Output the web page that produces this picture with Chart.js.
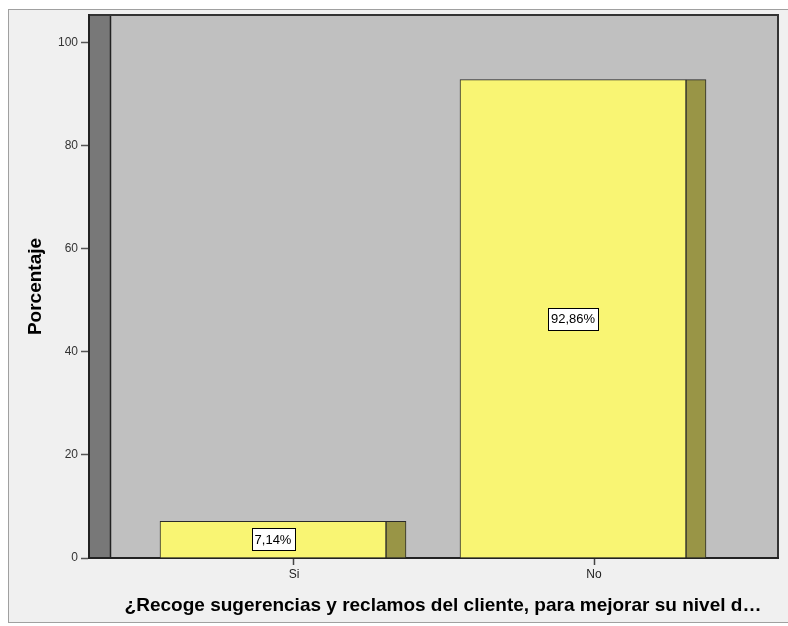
<!DOCTYPE html>
<html><head><meta charset="utf-8">
<script src="https://cdn.jsdelivr.net/npm/chart.js@4/dist/chart.umd.min.js"></script>
<style>html,body{margin:0;padding:0;background:#fff;overflow:hidden}#wrap{width:788px;height:626px;position:relative}</style>
</head><body><div id="wrap"><canvas id="c" width="788" height="626"></canvas></div>
<script>
// ---- data ----
const categories = ['Si', 'No'];
const percentages = [7.14, 92.86];
const valueLabels = ['7,14%', '92,86%'];
const yTickValues = [0, 20, 40, 60, 80, 100];
const xAxisTitle = '¿Recoge sugerencias y reclamos del cliente, para mejorar su nivel d…';
const yAxisTitle = 'Porcentaje';

const FONT = '"Liberation Sans", Arial, sans-serif';
const points = categories.map((c, i) => ({ x: i, y: percentages[i] }));

const backgroundPlugin = {
  id: 'bgFrame',
  beforeDraw(chart) {
    const ctx = chart.ctx;
    ctx.save();
    ctx.fillStyle = '#ffffff';
    ctx.fillRect(0, 0, chart.width, chart.height);
    ctx.fillStyle = '#f0f0f0';
    ctx.fillRect(8, 9, chart.width - 8, 614);
    ctx.strokeStyle = '#a0a0a0';
    ctx.lineWidth = 1;
    ctx.strokeRect(8.5, 9.5, chart.width, 613);
    const a = chart.chartArea;
    ctx.fillStyle = '#c0c0c0';
    ctx.fillRect(a.left, a.top, a.right - a.left, a.bottom - a.top);
    ctx.fillStyle = '#787878';
    ctx.fillRect(a.left, a.top, 21, a.bottom - a.top);
    ctx.strokeStyle = '#222';
    ctx.lineWidth = 1.5;
    ctx.beginPath();
    ctx.moveTo(a.left + 21.5, a.top);
    ctx.lineTo(a.left + 21.5, a.bottom);
    ctx.stroke();
    ctx.lineWidth = 2;
    ctx.strokeStyle = '#333';
    ctx.strokeRect(a.left, a.top, a.right - a.left, a.bottom - a.top);
    ctx.restore();
  }
};

const labelPlugin = {
  id: 'valueBoxes',
  afterDatasetsDraw(chart) {
    const meta = chart.getDatasetMeta(0);
    const ctx = chart.ctx;
    ctx.save();
    ctx.font = '13px ' + FONT;
    ctx.textAlign = 'center';
    ctx.textBaseline = 'middle';
    meta.data.forEach((el, i) => {
      const cx = el.x;
      const cy = (el.y + el.base) / 2;
      const w = ctx.measureText(valueLabels[i]).width + 6;
      const h = 22;
      ctx.fillStyle = '#ffffff';
      ctx.fillRect(Math.round(cx - w / 2) + 0.5, Math.round(cy - h / 2) + 0.5, Math.round(w), h);
      ctx.strokeStyle = '#000';
      ctx.lineWidth = 1;
      ctx.strokeRect(Math.round(cx - w / 2) + 0.5, Math.round(cy - h / 2) + 0.5, Math.round(w), h);
      ctx.fillStyle = '#000';
      ctx.fillText(valueLabels[i], cx, cy + 1);
    });
    ctx.restore();
  }
};

const xTitlePlugin = {
  id: 'xTitle',
  afterDraw(chart) {
    const ctx = chart.ctx;
    ctx.save();
    ctx.font = 'bold 19px ' + FONT;
    ctx.fillStyle = '#000';
    ctx.textAlign = 'center';
    ctx.textBaseline = 'middle';
    ctx.fillText(xAxisTitle, 443, 606);
    ctx.restore();
  }
};

new Chart(document.getElementById('c'), {
  type: 'bar',
  data: {
    datasets: [
      {
        label: 'front',
        data: points,
        xAxisID: 'xFront',
        backgroundColor: '#f9f573',
        borderColor: '#2a2a2a',
        borderWidth: 1,
        barThickness: 226,
        grouped: false
      },
      {
        label: 'side',
        data: points,
        xAxisID: 'xSide',
        backgroundColor: '#999546',
        borderColor: '#2a2a2a',
        borderWidth: 1,
        barThickness: 20,
        grouped: false
      }
    ]
  },
  options: {
    responsive: false,
    animation: false,
    layout: { padding: { top: 15, right: 10, left: 0, bottom: 0 } },
    plugins: { legend: { display: false }, tooltip: { enabled: false }, title: { display: false } },
    scales: {
      x: {
        type: 'linear',
        position: 'bottom',
        min: -0.68333,
        max: 1.61333,
        offset: false,
        afterBuildTicks: s => { s.ticks = categories.map((c, i) => ({ value: i })); },
        afterFit: s => { s.height = 68; },
        ticks: { callback: v => categories[v], color: '#222', font: { size: 12, family: FONT }, padding: 2, maxRotation: 0 },
        grid: { drawOnChartArea: false, offset: false, tickLength: 7, color: '#444', tickWidth: 1.5 },
        border: { display: true, color: '#222', width: 2 },
        title: { display: false }
      },
      xFront: {
        type: 'linear', display: false, offset: false,
        min: -0.61333, max: 1.68333
      },
      xSide: {
        type: 'linear', display: false, offset: false,
        min: -1.02333, max: 1.27333
      },
      y: {
        type: 'linear',
        min: 0,
        max: 105.4,
        afterBuildTicks: s => { s.ticks = yTickValues.map(v => ({ value: v })); },
        afterFit: s => { s.width = 89; },
        ticks: { color: '#333', font: { size: 12, family: FONT }, padding: 3 },
        grid: { drawOnChartArea: false, tickLength: 8, color: '#555', tickWidth: 1.5 },
        border: { display: true, color: '#222', width: 2 },
        title: { display: true, text: yAxisTitle, color: '#000', font: { size: 19, weight: 'bold', family: FONT }, padding: { top: 24, bottom: 0 } }
      }
    }
  },
  plugins: [backgroundPlugin, labelPlugin, xTitlePlugin]
});
</script>
</body></html>
